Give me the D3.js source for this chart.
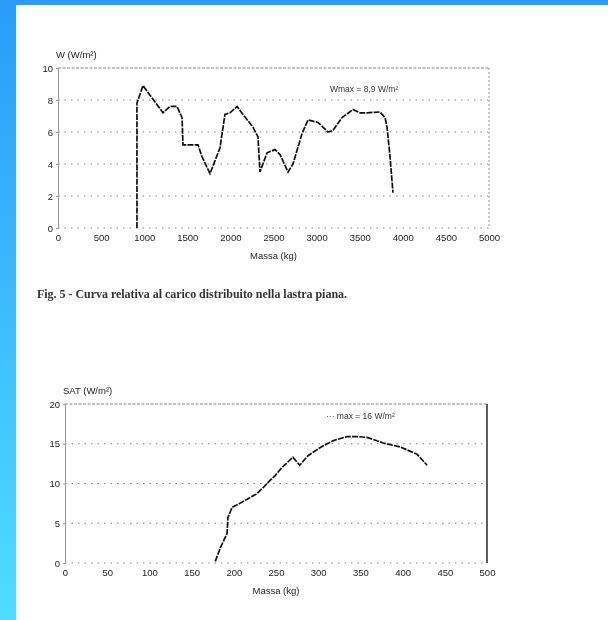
<!DOCTYPE html>
<html>
<head>
<meta charset="utf-8">
<script src="https://cdn.jsdelivr.net/npm/d3@7"></script>
<style>
  html, body { margin: 0; padding: 0; background: #fff; }
  svg { display: block; }
  .tick text { font-family: "Liberation Sans", Arial, sans-serif; font-size: 9.5px; fill: #222; }
</style>
</head>
<body>
<div id="chart"></div>
<script>
// ---- data ----
const massTop = [916, 916, 986, 1218, 1299, 1380, 1439, 1450, 1624, 1671, 1763, 1879, 1937, 1995, 2077, 2146, 2262, 2320, 2343, 2425, 2517, 2575, 2668, 2726, 2831, 2900, 3016, 3132, 3190, 3295, 3422, 3503, 3585, 3735, 3794, 3817, 3852, 3886];
const wTop    = [0, 7.8, 8.9, 7.2, 7.6, 7.6, 6.9, 5.2, 5.2, 4.45, 3.4, 5.0, 7.1, 7.2, 7.6, 7.1, 6.3, 5.7, 3.5, 4.7, 4.9, 4.6, 3.5, 4.0, 5.9, 6.75, 6.6, 6.0, 6.1, 6.9, 7.4, 7.2, 7.2, 7.25, 6.9, 6.3, 4.45, 2.2];
const xTicksTop = [0, 500, 1000, 1500, 2000, 2500, 3000, 3500, 4000, 4500, 5000];
const yTicksTop = [0, 2, 4, 6, 8, 10];

const massBottom = [178, 184, 192, 193, 198, 207, 227, 235, 243, 249, 257, 270, 278, 288, 302, 318, 334, 346, 358, 377, 397, 417, 429];
const wBottom    = [0.2, 1.9, 3.7, 5.7, 7.0, 7.5, 8.7, 9.5, 10.4, 11.0, 12.0, 13.3, 12.3, 13.5, 14.5, 15.4, 15.9, 15.9, 15.8, 15.1, 14.6, 13.7, 12.3];
const xTicksBottom = [0, 50, 100, 150, 200, 250, 300, 350, 400, 450, 500];
const yTicksBottom = [0, 5, 10, 15, 20];

const width = 608, height = 620;

const svg = d3.create("svg")
    .attr("width", width)
    .attr("height", height);

// blue frame around the scanned page
const defs = svg.append("defs");
const grad = defs.append("linearGradient")
    .attr("id", "side").attr("x1", 0).attr("y1", 0).attr("x2", 0).attr("y2", 1);
grad.append("stop").attr("offset", "0%").attr("stop-color", "#2a9cf8");
grad.append("stop").attr("offset", "100%").attr("stop-color", "#50dcff");
defs.append("filter").attr("id", "scan")
    .append("feGaussianBlur").attr("stdDeviation", 0.45);

svg.append("rect").attr("width", width).attr("height", height).attr("fill", "url(#side)");
svg.append("rect").attr("width", width).attr("height", 5).attr("fill", "#2a9cf8");
svg.append("rect").attr("x", 16).attr("y", 5).attr("width", width - 16).attr("height", height - 5).attr("fill", "#fff");

const page = svg.append("g").attr("filter", "url(#scan)");

function drawChart(opt) {
    const g = page.append("g");
    const x = d3.scaleLinear().domain(opt.xDomain).range([opt.left, opt.right]);
    const y = d3.scaleLinear().domain(opt.yDomain).range([opt.bottom, opt.top]);

    // dotted grid
    g.append("g")
        .selectAll("line")
        .data(opt.yTicks)
        .enter().append("line")
        .attr("x1", opt.left).attr("x2", opt.right)
        .attr("y1", d => y(d)).attr("y2", d => y(d))
        .attr("stroke", "#777")
        .attr("stroke-width", 0.9)
        .attr("stroke-dasharray", d => d === opt.yDomain[1] ? "3,1.5" : "1.5,5");

    // left axis
    const yAxis = d3.axisLeft(y).tickValues(opt.yTicks).tickSize(2).tickPadding(3);
    const ya = g.append("g").attr("transform", `translate(${opt.left},0)`).call(yAxis);
    ya.select(".domain").attr("stroke", "#999");
    ya.selectAll(".tick line").attr("stroke", "#999");

    // bottom axis (labels only)
    const xAxis = d3.axisBottom(x).tickValues(opt.xTicks).tickFormat(d3.format("d")).tickSize(0).tickPadding(6);
    const xa = g.append("g").attr("transform", `translate(0,${opt.bottom})`).call(xAxis);
    xa.select(".domain").remove();

    // right border
    g.append("line")
        .attr("x1", opt.right).attr("x2", opt.right)
        .attr("y1", opt.top).attr("y2", opt.bottom)
        .attr("stroke", opt.rightColor)
        .attr("stroke-width", opt.rightWidth)
        .attr("stroke-dasharray", opt.rightDash);

    // curve
    const line = d3.line().x(d => x(d[0])).y(d => y(d[1]));
    g.append("path")
        .datum(d3.zip(opt.xs, opt.ys))
        .attr("fill", "none")
        .attr("stroke", "#111")
        .attr("stroke-width", 1.7)
        .attr("stroke-dasharray", "6,1.2")
        .attr("d", line);

    // titles
    g.append("text")
        .attr("x", opt.left - 2).attr("y", opt.top - 10)
        .attr("font-family", "Liberation Sans, Arial, sans-serif")
        .attr("font-size", 9.5).attr("fill", "#222")
        .text(opt.yTitle);
    g.append("text")
        .attr("x", (opt.left + opt.right) / 2).attr("y", opt.bottom + 31)
        .attr("text-anchor", "middle")
        .attr("font-family", "Liberation Sans, Arial, sans-serif")
        .attr("font-size", 9.5).attr("fill", "#222")
        .text(opt.xTitle);
    g.append("text")
        .attr("x", opt.legendX).attr("y", opt.legendY)
        .attr("font-family", "Liberation Sans, Arial, sans-serif")
        .attr("font-size", 8.5).attr("fill", "#333")
        .text(opt.legend);
}

drawChart({
    left: 58, right: 489, top: 68, bottom: 228,
    xDomain: [0, 5000], yDomain: [0, 10],
    xTicks: xTicksTop, yTicks: yTicksTop,
    xs: massTop, ys: wTop,
    rightColor: "#888", rightWidth: 0.9, rightDash: "2,2",
    yTitle: "W   (W/m²)", xTitle: "Massa (kg)",
    legend: "Wmax = 8,9 W/m²", legendX: 330, legendY: 92
});

drawChart({
    left: 65, right: 487, top: 404, bottom: 563,
    xDomain: [0, 500], yDomain: [0, 20],
    xTicks: xTicksBottom, yTicks: yTicksBottom,
    xs: massBottom, ys: wBottom,
    rightColor: "#333", rightWidth: 1.6, rightDash: null,
    yTitle: "SAT (W/m²)", xTitle: "Massa (kg)",
    legend: "··· max = 16 W/m²", legendX: 326, legendY: 419
});

// caption between the charts
page.append("text")
    .attr("x", 37).attr("y", 298)
    .attr("font-family", "Liberation Serif, Times New Roman, serif")
    .attr("font-size", 12).attr("font-weight", "bold").attr("fill", "#333")
    .attr("textLength", 310).attr("lengthAdjust", "spacing")
    .text("Fig. 5 - Curva relativa al carico distribuito nella lastra piana.");

document.getElementById("chart").appendChild(svg.node());
</script>
</body>
</html>
